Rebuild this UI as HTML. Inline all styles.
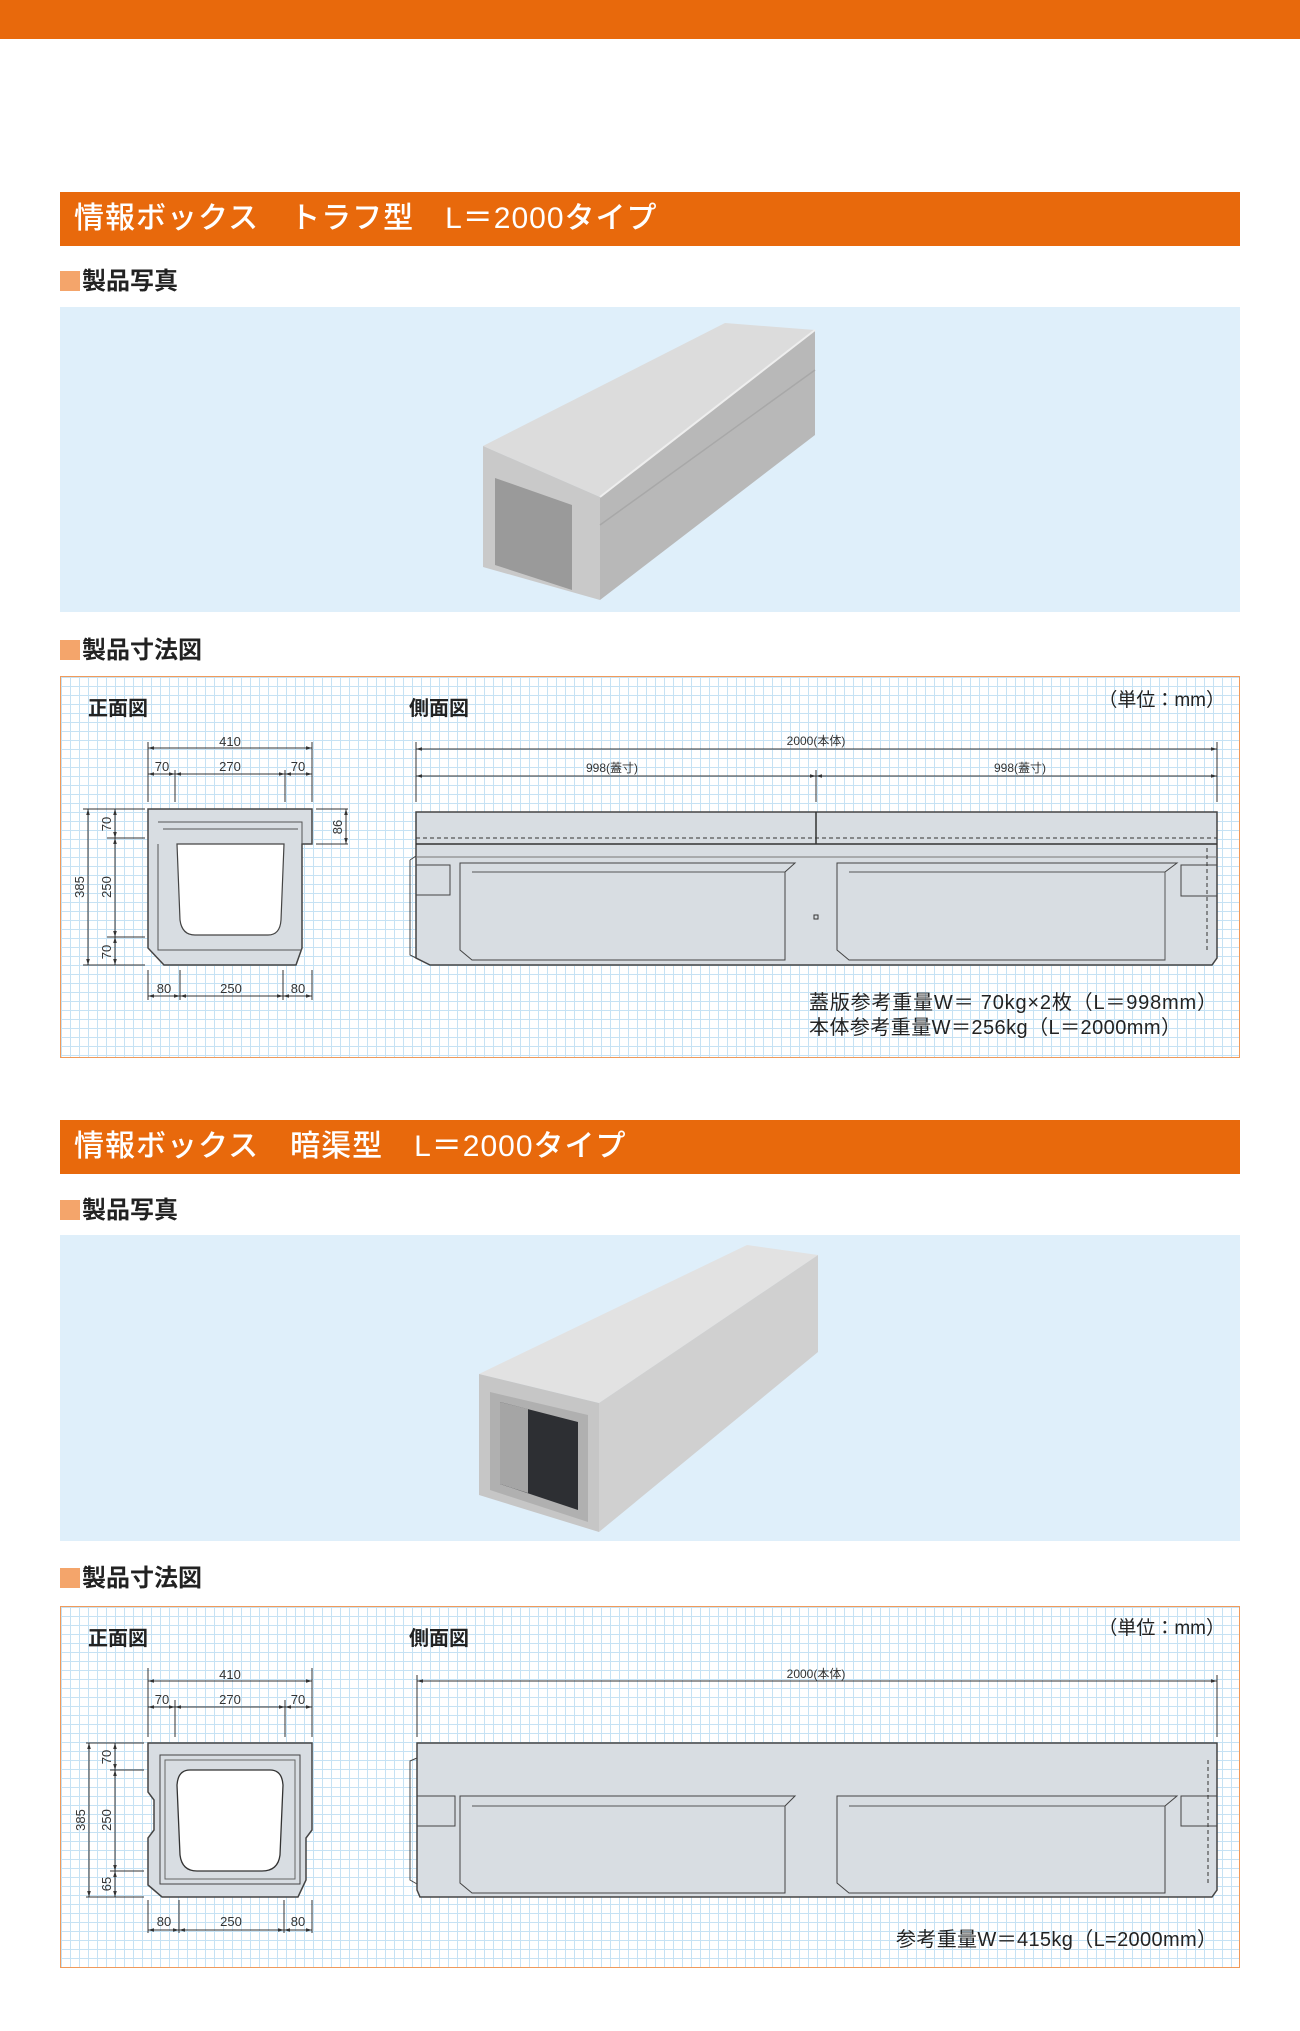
<!DOCTYPE html>
<html><head><meta charset="utf-8"><style>
html,body{margin:0;padding:0;background:#fff;}
body{width:1300px;height:2031px;position:relative;overflow:hidden;font-family:"Liberation Sans","Noto Sans CJK JP",sans-serif;}
.top{position:absolute;left:0;top:0;width:1300px;height:39px;background:#e8690c;}
.hdr{position:absolute;left:60px;width:1180px;height:54px;background:#e8690c;color:#fff;font-size:30px;letter-spacing:1px;line-height:54px;box-sizing:border-box;padding-left:14px;font-weight:500;}
.lbl{position:absolute;left:60px;font-size:24px;font-weight:bold;color:#222;line-height:26px;}
.lbl i{display:inline-block;width:20px;height:20px;background:#f4a56b;vertical-align:-2px;margin-right:2px;}
.photo{position:absolute;left:60px;width:1180px;background:#dfeffa;}
.grid{position:absolute;left:60px;width:1180px;box-sizing:border-box;border:1.5px solid #f09a5a;background-color:#fff;
background-image:linear-gradient(#c6e2f4 1px,transparent 1px),linear-gradient(90deg,#c6e2f4 1px,transparent 1px);background-size:9px 9px;}
svg{position:absolute;left:0;top:0;}
</style></head><body>
<div class="top"></div>
<div class="hdr" style="top:192px">情報ボックス　トラフ型　L＝2000タイプ</div>
<div class="lbl" style="top:269px"><i></i>製品写真</div>
<div class="photo" style="top:307px;height:305px"></div>
<div class="lbl" style="top:638px"><i></i>製品寸法図</div>
<div class="grid" style="top:676px;height:382px"></div>
<div class="hdr" style="top:1120px">情報ボックス　暗渠型　L＝2000タイプ</div>
<div class="lbl" style="top:1198px"><i></i>製品写真</div>
<div class="photo" style="top:1235px;height:306px"></div>
<div class="lbl" style="top:1566px"><i></i>製品寸法図</div>
<div class="grid" style="top:1606px;height:362px"></div>

<svg width="1300" height="2031" viewBox="0 0 1300 2031" font-family="Liberation Sans, Noto Sans CJK JP, sans-serif">
<defs>
<marker id="a" viewBox="0 0 10 10" refX="10" refY="5" markerWidth="6" markerHeight="6" orient="auto-start-reverse"><path d="M0,2 L10,5 L0,8z" fill="#333"/></marker>
</defs>
<!-- photo 1 -->
<polygon points="483,446 725,323 815,330 600,497" fill="#dcdcdc"/>
<polygon points="600,497 815,330 815,435 600,600" fill="#b8b8b8"/>
<polygon points="483,446 600,497 600,600 483,567" fill="#c9c9c9"/>
<polygon points="495,478 572,505 572,590 495,565" fill="#9a9a9a"/>
<line x1="600" y1="497" x2="815" y2="330" stroke="#eee" stroke-width="2"/>
<line x1="600" y1="525" x2="815" y2="370" stroke="#a8a8a8" stroke-width="1.5"/>
<!-- photo 2 -->
<polygon points="479,1374 747,1245 818,1255 599,1403" fill="#e2e2e2"/>
<polygon points="599,1403 818,1255 818,1352 599,1532" fill="#d0d0d0"/>
<polygon points="479,1374 599,1403 599,1532 479,1495" fill="#c6c6c6"/>
<polygon points="490,1392 588,1415 588,1522 490,1490" fill="#b0b0b0"/>
<polygon points="500,1402 578,1422 578,1510 500,1484" fill="#2d2f33"/>
<polygon points="500,1402 528,1409 528,1493 500,1484" fill="#a5a5a5"/>

<g stroke="#333" stroke-width="1" fill="none" font-size="12" >
<!-- box 1 front -->
<g>
<path d="M148,809 H312 V844 H302 V948 L296,965 H164 L148,948 V844 H148 Z" fill="#d8dde2" stroke="#444" stroke-width="1.5"/>
<path d="M158,822 H302 V844" stroke="#555"/>
<path d="M163,829 H298" stroke="#555"/>
<path d="M158,844 V950 H302" stroke="#555"/>
<path d="M177,844 L180,920 Q182,935 195,935 H268 Q280,935 281,920 L284,844 Z" fill="#fff" stroke="#444" stroke-width="1.2"/>
<line x1="148" y1="742" x2="148" y2="802"/><line x1="312" y1="742" x2="312" y2="802"/>
<line x1="175" y1="770" x2="175" y2="802"/><line x1="285" y1="770" x2="285" y2="802"/>
<line x1="148" y1="748" x2="312" y2="748" marker-start="url(#a)" marker-end="url(#a)"/>
<line x1="148" y1="774" x2="175" y2="774" marker-start="url(#a)" marker-end="url(#a)"/>
<line x1="175" y1="774" x2="285" y2="774" marker-start="url(#a)" marker-end="url(#a)"/>
<line x1="285" y1="774" x2="312" y2="774" marker-start="url(#a)" marker-end="url(#a)"/>
<line x1="148" y1="970" x2="148" y2="1000"/><line x1="180" y1="970" x2="180" y2="1000"/>
<line x1="283" y1="970" x2="283" y2="1000"/><line x1="312" y1="970" x2="312" y2="1000"/>
<line x1="148" y1="996" x2="180" y2="996" marker-start="url(#a)" marker-end="url(#a)"/>
<line x1="180" y1="996" x2="283" y2="996" marker-start="url(#a)" marker-end="url(#a)"/>
<line x1="283" y1="996" x2="312" y2="996" marker-start="url(#a)" marker-end="url(#a)"/>
<line x1="83" y1="809" x2="145" y2="809"/><line x1="83" y1="965" x2="145" y2="965"/>
<line x1="107" y1="838" x2="145" y2="838"/><line x1="107" y1="937" x2="145" y2="937"/>
<line x1="88" y1="809" x2="88" y2="965" marker-start="url(#a)" marker-end="url(#a)"/>
<line x1="115" y1="809" x2="115" y2="838" marker-start="url(#a)" marker-end="url(#a)"/>
<line x1="115" y1="838" x2="115" y2="937" marker-start="url(#a)" marker-end="url(#a)"/>
<line x1="115" y1="937" x2="115" y2="965" marker-start="url(#a)" marker-end="url(#a)"/>
<line x1="316" y1="809" x2="348" y2="809"/><line x1="316" y1="844" x2="348" y2="844"/>
<line x1="346" y1="809" x2="346" y2="844" marker-start="url(#a)" marker-end="url(#a)"/>
</g>
<!-- box 1 side -->
<g>
<path d="M416,812 H1217 V958 L1212,965 H430 L416,958 Z" fill="#d8dde2" stroke="#444" stroke-width="1.5"/>
<path d="M410,860 L416,856 M410,860 V955 L416,958" stroke="#444"/>
<line x1="416" y1="844" x2="1217" y2="844" stroke="#333" stroke-width="1.5"/>
<line x1="416" y1="838" x2="1217" y2="838" stroke-dasharray="4,3"/>
<line x1="816" y1="812" x2="816" y2="844" stroke-width="1.5"/>
<line x1="416" y1="857" x2="1217" y2="857" stroke="#777"/>
<path d="M460,863 H795 L785,872 V960 H472 L460,950 Z" stroke="#444"/>
<path d="M472,872 H785" stroke="#555"/>
<path d="M837,863 H1177 L1165,872 V960 H849 L837,950 Z" stroke="#444"/>
<path d="M849,872 H1165 V960" stroke="#555"/>
<path d="M416,865 H450 V895 H416" stroke="#444"/>
<path d="M1217,865 H1181 V896 H1217" stroke="#444"/>
<rect x="814" y="915" width="4" height="4"/>
<line x1="1207" y1="848" x2="1207" y2="950" stroke-dasharray="4,3"/>
<line x1="416" y1="742" x2="416" y2="802"/><line x1="1217" y1="742" x2="1217" y2="802"/>
<line x1="816" y1="770" x2="816" y2="802"/>
<line x1="416" y1="749" x2="1217" y2="749" marker-start="url(#a)" marker-end="url(#a)"/>
<line x1="416" y1="776" x2="816" y2="776" marker-start="url(#a)" marker-end="url(#a)"/>
<line x1="816" y1="776" x2="1217" y2="776" marker-start="url(#a)" marker-end="url(#a)"/>
</g>

<!-- box 2 front -->
<g>
<path d="M148,1743 H312 V1830 L306,1838 V1880 L298,1897 H162 L148,1885 V1838 L154,1830 V1800 L148,1792 Z" fill="#d8dde2" stroke="#444" stroke-width="1.5"/>
<rect x="160" y="1755" width="140" height="129" stroke="#444"/>
<rect x="165" y="1760" width="130" height="119" stroke="#666"/>
<path d="M190,1770 H270 Q282,1770 283,1785 L280,1855 Q278,1871 262,1871 H197 Q182,1871 180,1855 L177,1785 Q178,1770 190,1770 Z" fill="#fff" stroke="#333" stroke-width="1.3"/>
<line x1="148" y1="1668" x2="148" y2="1737"/><line x1="312" y1="1668" x2="312" y2="1737"/>
<line x1="175" y1="1700" x2="175" y2="1737"/><line x1="285" y1="1700" x2="285" y2="1737"/>
<line x1="148" y1="1681" x2="312" y2="1681" marker-start="url(#a)" marker-end="url(#a)"/>
<line x1="148" y1="1707" x2="175" y2="1707" marker-start="url(#a)" marker-end="url(#a)"/>
<line x1="175" y1="1707" x2="285" y2="1707" marker-start="url(#a)" marker-end="url(#a)"/>
<line x1="285" y1="1707" x2="312" y2="1707" marker-start="url(#a)" marker-end="url(#a)"/>
<line x1="148" y1="1900" x2="148" y2="1933"/><line x1="179" y1="1900" x2="179" y2="1933"/>
<line x1="284" y1="1900" x2="284" y2="1933"/><line x1="312" y1="1900" x2="312" y2="1933"/>
<line x1="148" y1="1930" x2="179" y2="1930" marker-start="url(#a)" marker-end="url(#a)"/>
<line x1="179" y1="1930" x2="284" y2="1930" marker-start="url(#a)" marker-end="url(#a)"/>
<line x1="284" y1="1930" x2="312" y2="1930" marker-start="url(#a)" marker-end="url(#a)"/>
<line x1="86" y1="1743" x2="144" y2="1743"/><line x1="86" y1="1897" x2="144" y2="1897"/>
<line x1="110" y1="1770" x2="144" y2="1770"/><line x1="110" y1="1871" x2="144" y2="1871"/>
<line x1="89" y1="1743" x2="89" y2="1897" marker-start="url(#a)" marker-end="url(#a)"/>
<line x1="115" y1="1743" x2="115" y2="1770" marker-start="url(#a)" marker-end="url(#a)"/>
<line x1="115" y1="1770" x2="115" y2="1871" marker-start="url(#a)" marker-end="url(#a)"/>
<line x1="115" y1="1871" x2="115" y2="1897" marker-start="url(#a)" marker-end="url(#a)"/>
</g>
<!-- box 2 side -->
<g>
<path d="M417,1743 H1217 V1890 L1212,1897 H420 L417,1890 Z" fill="#d8dde2" stroke="#444" stroke-width="1.5"/>
<path d="M417,1758 L410,1761 V1880 L417,1884" stroke="#444"/>
<path d="M460,1796 H795 L785,1806 V1893 H472 L460,1883 Z" stroke="#444"/>
<path d="M472,1806 H785" stroke="#555"/>
<path d="M837,1796 H1177 L1165,1806 V1893 H849 L837,1883 Z" stroke="#444"/>
<path d="M849,1806 H1165" stroke="#555"/>
<path d="M417,1796 H455 V1826 H417" stroke="#444"/>
<path d="M1217,1796 H1181 V1826 H1217" stroke="#444"/>
<line x1="1208" y1="1760" x2="1208" y2="1885" stroke-dasharray="4,3"/>
<line x1="417" y1="1675" x2="417" y2="1737"/><line x1="1217" y1="1675" x2="1217" y2="1737"/>
<line x1="417" y1="1681" x2="1217" y2="1681" marker-start="url(#a)" marker-end="url(#a)"/>
</g>
</g>

<g fill="#333" font-size="13" text-anchor="middle">
<text x="230" y="746">410</text><text x="162" y="771">70</text><text x="230" y="771">270</text><text x="298" y="771">70</text>
<text x="164" y="993">80</text><text x="231" y="993">250</text><text x="298" y="993">80</text>
<text transform="translate(84,887) rotate(-90)">385</text>
<text transform="translate(111,887) rotate(-90)">250</text>
<text transform="translate(111,824) rotate(-90)">70</text>
<text transform="translate(111,952) rotate(-90)">70</text>
<text transform="translate(342,827) rotate(-90)">86</text>
<text x="816" y="745" font-size="12">2000(本体)</text>
<text x="612" y="772" font-size="12">998(蓋寸)</text>
<text x="1020" y="772" font-size="12">998(蓋寸)</text>
<text x="230" y="1679">410</text><text x="162" y="1704">70</text><text x="230" y="1704">270</text><text x="298" y="1704">70</text>
<text x="164" y="1926">80</text><text x="231" y="1926">250</text><text x="298" y="1926">80</text>
<text transform="translate(85,1820) rotate(-90)">385</text>
<text transform="translate(111,1820) rotate(-90)">250</text>
<text transform="translate(111,1757) rotate(-90)">70</text>
<text transform="translate(111,1884) rotate(-90)">65</text>
<text x="816" y="1678" font-size="12">2000(本体)</text>
</g>
<g fill="#222" font-weight="bold" font-size="20">
<text x="88" y="715">正面図</text><text x="409" y="715">側面図</text>
<text x="88" y="1645">正面図</text><text x="409" y="1645">側面図</text>
</g>
<g fill="#222" font-size="19">
<text x="1225" y="706" text-anchor="end">（単位：mm）</text>
<text x="1225" y="1634" text-anchor="end">（単位：mm）</text>
<text x="809" y="1009" font-size="20" textLength="408" lengthAdjust="spacing">蓋版参考重量W＝  70kg×2枚（L＝998mm）</text>
<text x="809" y="1034" font-size="20" textLength="372" lengthAdjust="spacing">本体参考重量W＝256kg（L＝2000mm）</text>
<text x="896" y="1946" font-size="20" textLength="321" lengthAdjust="spacing">参考重量W＝415kg（L=2000mm）</text>
</g>
</svg>
</body></html>
